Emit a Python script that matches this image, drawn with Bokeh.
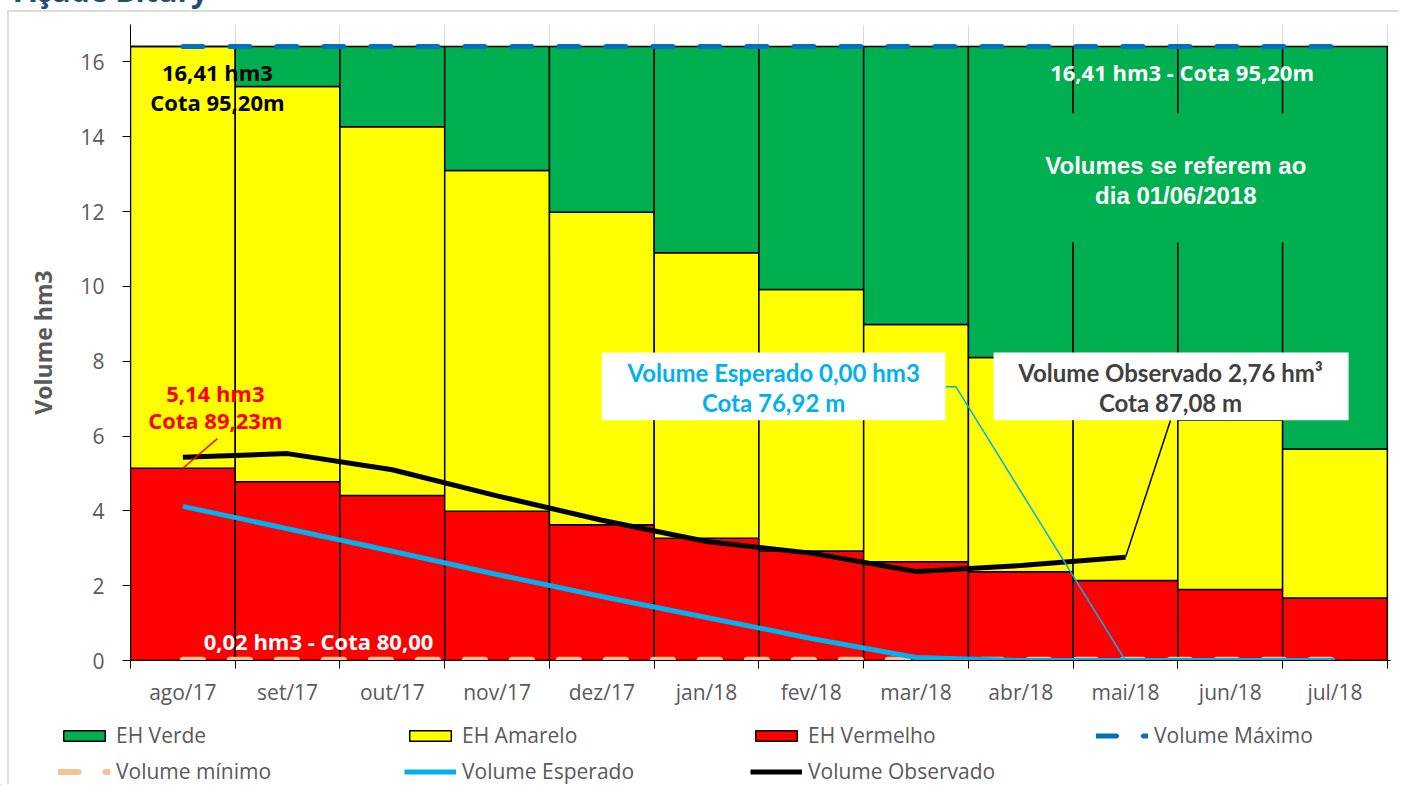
from bokeh.plotting import figure
from bokeh.models import Range1d, FixedTicker, Legend, LegendItem, Label, BoxAnnotation, Div
from bokeh.layouts import column
from bokeh.embed import file_html
from bokeh.resources import INLINE

title = "Açude Bitury"
months = ["ago/17", "set/17", "out/17", "nov/17", "dez/17", "jan/18",
          "fev/18", "mar/18", "abr/18", "mai/18", "jun/18", "jul/18"]
vol_max = 16.41
vol_min = 0.02
eh_vermelho = [5.14, 4.78, 4.41, 3.99, 3.63, 3.27, 2.93, 2.64, 2.37, 2.14, 1.90, 1.67]
eh_amarelo_top = [16.41, 15.34, 14.27, 13.10, 11.98, 10.90, 9.92, 8.98, 8.10, 7.25, 6.43, 5.65]
vol_esperado = [4.12, 3.52, 2.92, 2.30, 1.71, 1.15, 0.59, 0.08, 0.0, 0.0, 0.0, 0.0]
vol_observado = [5.43, 5.53, 5.10, 4.40, 3.75, 3.18, 2.87, 2.38, 2.54, 2.76]
y_ticks = [0, 2, 4, 6, 8, 10, 12, 14, 16]

n = len(months)
xc = [i + 0.5 for i in range(n)]
x_obs = xc[:len(vol_observado)]
GRAY = "#595959"
FONT = "Open Sans"

STY = {
    "verde": dict(fill_color="#00B050", line_color="black", line_width=1.5),
    "amarelo": dict(fill_color="#FFFF00", line_color="black", line_width=1.5),
    "vermelho": dict(fill_color="#FF0000", line_color="black", line_width=1.5),
    "max": dict(line_color="#0070C0", line_width=5, line_dash="20 27", line_cap="round"),
    "min": dict(line_color="#F8C194", line_width=6, line_dash="20 27", line_cap="round"),
    "esp": dict(line_color="#00B0F0", line_width=5),
    "obs": dict(line_color="black", line_width=5),
}

# title (mostly above the page edge, as in the source image) and the chart-area border
head = Div(
    text=(f'<div style="position:absolute;left:15px;top:-24px;font:bold 30px \'Open Sans\';'
          f'line-height:30px;color:#1F4E79;white-space:nowrap">{title}</div>'
          '<div style="position:absolute;left:7px;top:10px;width:1392px;height:2px;background:#DCDCDC"></div>'
          '<div style="position:absolute;left:7px;top:10px;width:2px;height:774px;background:#DCDCDC"></div>'),
    width=1400, height=0, margin=0,
    styles={"overflow": "visible", "z-index": "5", "position": "relative"})

p = figure(width=1400, height=712, output_backend="svg", toolbar_location=None,
           x_range=Range1d(0, n + 0.03), y_range=Range1d(0, 17),
           min_border_left=130, min_border_right=10, min_border_top=24, min_border_bottom=52)
p.outline_line_color = None
p.background_fill_color = "white"
p.frame_align = False

# grid
p.ygrid.grid_line_color = None
p.xgrid.ticker = FixedTicker(ticks=list(range(n + 1)))
p.xgrid.grid_line_color = "#D9D9D9"

# bars
p.vbar(x=xc, width=1, bottom=0, top=eh_vermelho, **STY["vermelho"])
p.vbar(x=xc, width=1, bottom=eh_vermelho, top=eh_amarelo_top, **STY["amarelo"])
p.vbar(x=xc, width=1, bottom=eh_amarelo_top, top=[vol_max] * n, **STY["verde"])

# lines
p.line(xc, [vol_min] * n, **STY["min"])
p.line(xc, [vol_max] * n, **STY["max"])
p.line(xc, vol_esperado, **STY["esp"])
p.line(x_obs, vol_observado, **STY["obs"])

# leader lines
p.line([xc[0], 0.83], [eh_vermelho[0], 5.93], line_color="#FF0000", line_width=1.5)
p.line([7.78, 7.88, xc[9]], [7.32, 7.32, vol_esperado[9]], line_color="#00B0F0", line_width=1.5)
p.line([x_obs[-1], 9.93], [vol_observado[-1], 6.42], line_color="black", line_width=1.5)

# callout boxes
p.add_layout(BoxAnnotation(left=8.40, right=11.55, bottom=11.17, top=14.62,
                           fill_color="#00B050", fill_alpha=1, line_color=None))
p.add_layout(BoxAnnotation(left=4.50, right=7.78, bottom=6.42, top=8.23,
                           fill_color="white", fill_alpha=1, line_color=None))
p.add_layout(BoxAnnotation(left=8.24, right=11.63, bottom=6.42, top=8.23,
                           fill_color="white", fill_alpha=1, line_color=None))


def lab(x, y, text, color, size, font=FONT):
    p.add_layout(Label(x=x, y=y, text=text, text_align="center", text_baseline="middle",
                       text_font=font, text_font_size=size, text_font_style="bold",
                       text_color=color))


lab(0.83, 15.72, "16,41 hm3", "black", "22px")
lab(0.83, 14.94, "Cota 95,20m", "black", "22px")
lab(10.04, 15.72, "16,41 hm3 - Cota 95,20m", "white", "22px")
lab(9.98, 13.23, "Volumes se referem ao", "white", "24px", "Liberation Sans")
lab(9.98, 12.43, "dia 01/06/2018", "white", "24px", "Liberation Sans")
lab(0.81, 7.16, "5,14 hm3", "#FF0000", "22px")
lab(0.81, 6.42, "Cota 89,23m", "#FF0000", "22px")
lab(1.795, 0.53, "0,02 hm3 - Cota 80,00", "white", "22px")
lab(6.14, 7.70, "Volume Esperado 0,00 hm3", "#00B0F0", "24px", "Lato")
lab(6.14, 6.90, "Cota 76,92 m", "#00B0F0", "24px", "Lato")
lab(9.93, 7.70, "Volume Observado 2,76 hm³", "#404040", "24px", "Lato")
lab(9.93, 6.90, "Cota 87,08 m", "#404040", "24px", "Lato")

# axes
xa = p.xaxis[0]
xa.ticker = FixedTicker(ticks=xc, minor_ticks=list(range(n + 1)))
xa.major_label_overrides = {x: m for x, m in zip(xc, months)}
xa.major_tick_out = 0
xa.major_tick_in = 0
xa.minor_tick_out = 8
xa.minor_tick_in = 0
xa.minor_tick_line_color = "black"
xa.axis_line_color = "black"
xa.major_label_text_font = FONT
xa.major_label_text_font_size = "21px"
xa.major_label_text_color = GRAY
xa.major_label_standoff = 9

ya = p.yaxis[0]
ya.ticker = FixedTicker(ticks=y_ticks)
ya.major_tick_out = 8
ya.major_tick_in = 0
ya.minor_tick_out = 0
ya.minor_tick_in = 0
ya.major_tick_line_color = "black"
ya.axis_line_color = "black"
ya.major_label_text_font = FONT
ya.major_label_text_font_size = "21px"
ya.major_label_text_color = GRAY
ya.major_label_standoff = 18
ya.axis_label = "Volume hm3"
ya.axis_label_text_font = FONT
ya.axis_label_text_font_size = "23px"
ya.axis_label_text_font_style = "bold"
ya.axis_label_text_color = GRAY
ya.axis_label_standoff = 18

# legend strip (separate figure beneath the chart; its glyph sample points lie off-range)
lg = figure(width=1400, height=73, output_backend="svg", toolbar_location=None,
            x_range=Range1d(0, 1), y_range=Range1d(0, 1), min_border=0)
lg.frame_align = False
lg.axis.visible = False
lg.grid.visible = False
lg.outline_line_color = None
off = [-5]
g_verde = lg.vbar(x=off, width=1, top=off, **STY["verde"])
g_amarelo = lg.vbar(x=off, width=1, top=off, **STY["amarelo"])
g_vermelho = lg.vbar(x=off, width=1, top=off, **STY["vermelho"])
g_max = lg.line(x=off, y=off, **STY["max"])
g_min = lg.line(x=off, y=off, **STY["min"])
g_esp = lg.line(x=off, y=off, **STY["esp"])
g_obs = lg.line(x=off, y=off, **STY["obs"])

legend = Legend(items=[
    LegendItem(label="EH Verde", renderers=[g_verde]),
    LegendItem(label="EH Amarelo", renderers=[g_amarelo]),
    LegendItem(label="EH Vermelho", renderers=[g_vermelho]),
    LegendItem(label="Volume Máximo", renderers=[g_max]),
    LegendItem(label="Volume mínimo", renderers=[g_min]),
    LegendItem(label="Volume Esperado", renderers=[g_esp]),
    LegendItem(label="Volume Observado", renderers=[g_obs]),
], orientation="horizontal", ncols=4, location=(58, 0),
    glyph_width=52, glyph_height=13, label_height=20, label_standoff=6,
    label_width=280, spacing=8, padding=0, margin=0,
    border_line_color=None, background_fill_alpha=0,
    label_text_font=FONT, label_text_font_size="21px", label_text_color=GRAY)
lg.add_layout(legend)

open("out.html", "w").write(file_html(column(head, p, lg, spacing=0), INLINE))
